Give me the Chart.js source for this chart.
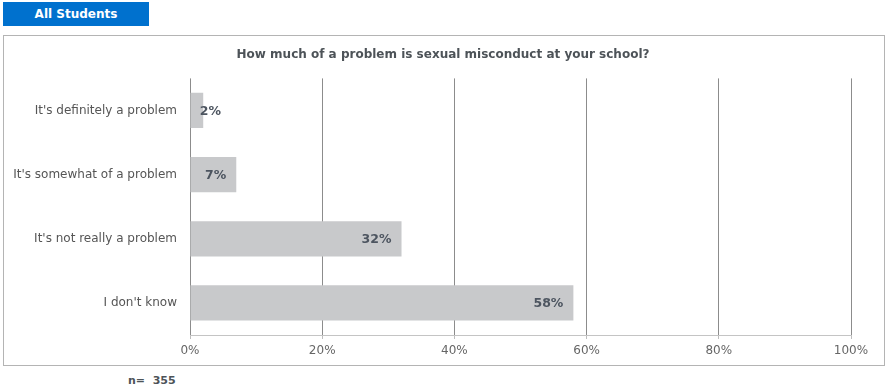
<!DOCTYPE html>
<html>
<head>
<meta charset="utf-8">
<script src="https://cdn.jsdelivr.net/npm/chart.js@4/dist/chart.umd.min.js"></script>
<style>
  html, body { margin: 0; padding: 0; background: #fff; }
  body { width: 886px; height: 389px; position: relative; overflow: hidden; font-family: "DejaVu Sans", Verdana, sans-serif; }
  #tab { position: absolute; left: 3px; top: 2px; width: 146px; height: 24px; background: #0071ce; color: #fff;
         font-weight: bold; font-size: 12px; line-height: 24px; text-align: center; }
  #frame { position: absolute; left: 3px; top: 35px; width: 880px; height: 329px; border: 1.5px solid #b4b4b4; }
  #n { position: absolute; left: 128px; top: 374px; font-size: 11px; font-weight: bold; color: #4d5358; }
  #wrap { position: absolute; left: 0; top: 0; width: 886px; height: 389px; }
</style>
</head>
<body>
<div id="tab">All Students</div>
<div id="frame"></div>
<div id="n">n=&nbsp; 355</div>
<div id="wrap"><canvas id="c" width="886" height="389"></canvas></div>
<script>
const questionTitle = "How much of a problem is sexual misconduct at your school?";
const categories = [
  "It's definitely a problem",
  "It's somewhat of a problem",
  "It's not really a problem",
  "I don't know"
];
const percentValues = [2, 7, 32, 58];
const percentTicks = [0, 20, 40, 60, 80, 100];

// Draws the bold percentage inside the end of each bar
const valueLabels = {
  id: 'valueLabels',
  afterDatasetsDraw(chart) {
    const ctx = chart.ctx;
    const meta = chart.getDatasetMeta(0);
    const xs = chart.scales.x;
    ctx.save();
    ctx.font = 'bold 12.5px "DejaVu Sans", Verdana, sans-serif';
    ctx.fillStyle = '#4d5560';
    ctx.textAlign = 'right';
    ctx.textBaseline = 'middle';
    meta.data.forEach((bar, i) => {
      const minRight = xs.getPixelForValue(0) + 31;
      const x = Math.max(bar.x - 10, minRight);
      ctx.fillText(percentValues[i] + '%', x, bar.y + 1);
    });
    ctx.restore();
  }
};

new Chart(document.getElementById('c'), {
  type: 'bar',
  data: {
    labels: categories,
    datasets: [{
      data: percentValues,
      backgroundColor: '#c8c9cb',
      borderWidth: 0,
      barPercentage: 0.55,
      categoryPercentage: 1.0
    }]
  },
  options: {
    indexAxis: 'y',
    responsive: false,
    animation: false,
    layout: { padding: 0 },
    plugins: {
      legend: { display: false },
      tooltip: { enabled: false },
      title: {
        display: true,
        text: questionTitle,
        color: '#4d5358',
        font: { family: '"DejaVu Sans", Verdana, sans-serif', size: 12, weight: 'bold' },
        padding: { top: 48, bottom: 16 }
      }
    },
    scales: {
      x: {
        min: 0,
        max: 100,
        afterBuildTicks(scale) { scale.ticks = percentTicks.map(v => ({ value: v })); },
        afterFit(scale) { scale.height = 54; },
        ticks: {
          callback: v => v + '%',
          color: '#666',
          padding: 5,
          font: { family: '"DejaVu Sans", Verdana, sans-serif', size: 12 }
        },
        grid: { color: '#8c8c8c', tickColor: '#bdbdbd', tickLength: 4, lineWidth: 1 },
        border: { display: true, color: '#c4c4c4' }
      },
      y: {
        afterFit(scale) { scale.width = 190; },
        ticks: {
          color: '#555',
          padding: 5,
          font: { family: '"DejaVu Sans", Verdana, sans-serif', size: 12 }
        },
        grid: { display: false },
        border: { display: false }
      },
      // empty right-hand axis that reserves the margin right of 100%
      yRight: {
        type: 'category',
        position: 'right',
        labels: categories,
        afterFit(scale) { scale.width = 35; },
        ticks: { display: false },
        grid: { display: false },
        border: { display: false }
      }
    }
  },
  plugins: [valueLabels]
});
</script>
</body>
</html>
